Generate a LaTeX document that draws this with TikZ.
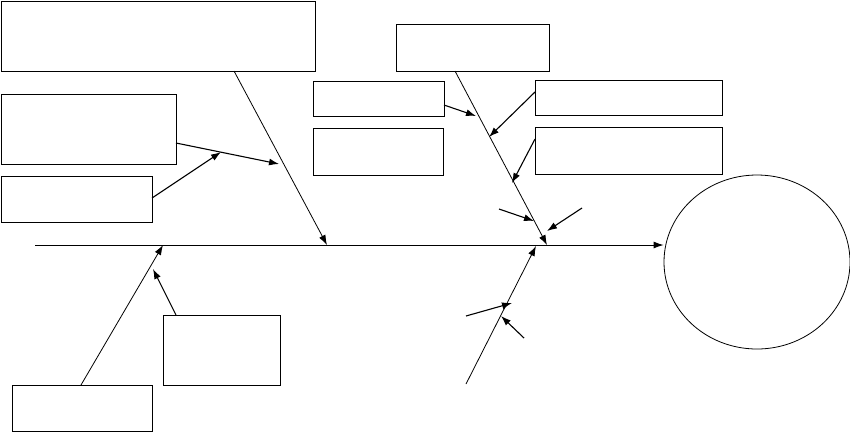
\documentclass[tikz,border=0pt]{standalone}
\usetikzlibrary{arrows.meta,shapes.geometric}

\tikzset{
    box/.style={draw, rectangle, line width=1.2pt, inner sep=0pt, anchor=north west},
    bone/.style={line width=0.8pt, -{Latex[length=10pt,width=7pt]}},
    twig/.style={line width=1.1pt, -{Latex[length=10pt,width=7pt]}}
}

\begin{document}
\begin{tikzpicture}[x=1pt,y=-1pt]
    \useasboundingbox (0,0) rectangle (850,432);

    \foreach \name/\x/\y/\w/\h in {top/1/1/314/70, mid/396/24/153/47, la/1/94/175/70, lb/1/176/151/46,
        ca/313/81/131/35, cb/313/128/130/47, ra/535/80/187/35, rb/535/127/187/47,
        ba/12/385/140/46, bb/163/315/117/70}
    {
        \node[box, minimum width=\w pt, minimum height=\h pt] (\name) at (\x,\y) {};
    }
    \node[draw, ellipse, line width=0.8pt, inner sep=0pt, minimum width=186pt, minimum height=174pt] (effect) at (757,262) {};

    \foreach \name/\x/\y in {tail/35/245, t1/234/71, j1/327/245, t2/455/71, j2/547/245,
        t3/81/385, j3/163/245, t4/466/384, j4/536/246,
        a1/176/143, b1/279/164, a2/152/198, b2/221/152,
        a3/444/105, b3/476/116, a4/535/92, b4/489/137, a5/535/139, b5/512/183,
        a6/499/209, b6/534/221, a7/582/208, b7/547/231,
        a8/176/315, b8/153/269, a9/466/316, b9/512/303, a10/524/338, b10/501/316}
    {
        \coordinate (\name) at (\x,\y);
    }

    \draw[bone, line width=1pt] (tail) -- (tail -| effect.west);
    \draw[bone] (t1) -- (j1);
    \draw[bone] (t2) -- (j2);
    \draw[bone] (t3) -- (j3);
    \draw[bone] (t4) -- (j4);

    \foreach \i in {1,...,10}
    {
        \draw[twig] (a\i) -- (b\i);
    }
\end{tikzpicture}
\end{document}
